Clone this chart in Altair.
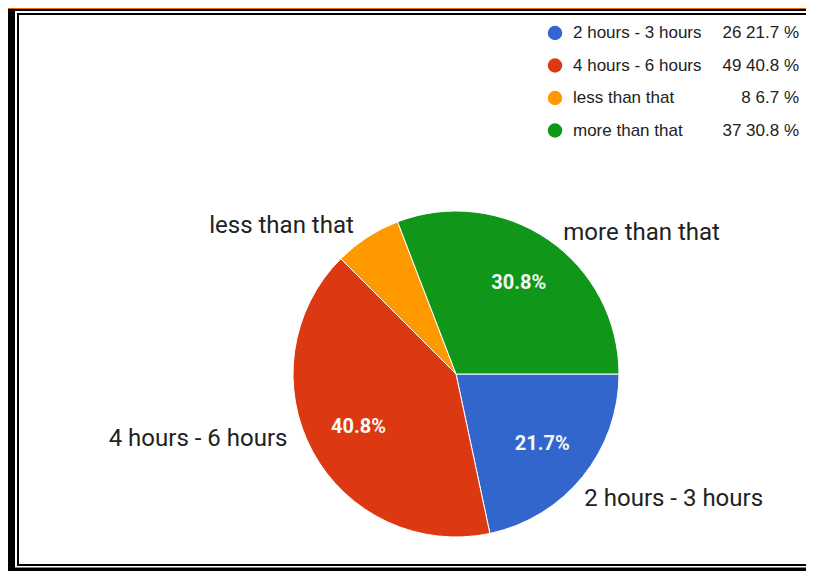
import math
import altair as alt
import pandas as pd

# ---- data ----
categories = ["2 hours - 3 hours", "4 hours - 6 hours", "less than that", "more than that"]
counts = [26, 49, 8, 37]
colors = ["#3366CC", "#DC3912", "#FF9900", "#109618"]

df = pd.DataFrame({"category": categories, "count": counts, "order": list(range(len(categories)))})

# ---- layout ----
W, H = 798, 563
CX, CY = 448, 366
R = 163
START = math.pi / 2
theta_scale = alt.Scale(domain=[0, 1], range=[START, START + 2 * math.pi])
color_scale = alt.Scale(domain=categories, range=colors)
legend_y = alt.Scale(domain=categories, range=[25, 122.5], padding=0)

base = (
    alt.Chart(df)
    .transform_joinaggregate(total="sum(count)")
    .transform_window(cum="sum(count)", sort=[alt.SortField("order")], frame=[None, 0])
    .transform_calculate(
        f0="(datum.cum - datum.count) / datum.total",
        f1="datum.cum / datum.total",
        mid="(datum.cum - datum.count / 2) / datum.total",
        share="datum.count / datum.total",
        pct_label="format(datum.count / datum.total * 100, '.1f') + '%'",
        legend_right="datum.count + ' ' + format(datum.count / datum.total * 100, '.1f') + ' %'",
    )
)

arcs = base.mark_arc(outerRadius=R, stroke="white", strokeWidth=1).encode(
    theta=alt.Theta("f0:Q", scale=theta_scale),
    theta2="f1:Q",
    color=alt.Color("category:N", scale=color_scale, legend=None),
    x=alt.value(CX),
    y=alt.value(CY),
)

inner = base.transform_filter("datum.share >= 0.1").mark_text(
    radius=111, font="Roboto", fontSize=20, fontWeight="bold", color="#f4f8f4",
    align="center", baseline="middle",
).encode(
    theta=alt.Theta("mid:Q", scale=theta_scale),
    text="pct_label:N",
    x=alt.value(CX),
    y=alt.value(CY),
)

offsets = {
    "2 hours - 3 hours": (70, 5),
    "4 hours - 6 hours": (-91, -26),
    "less than that": (-71, 11),
    "more than that": (78, 16),
}
outer_layers = []
for cat in categories:
    dx, dy = offsets[cat]
    outer_layers.append(
        base.transform_filter(alt.datum.category == cat).mark_text(
            radius=190, dx=dx, dy=dy, font="Roboto", fontSize=24, color="#222222",
            align="center", baseline="middle",
        ).encode(
            theta=alt.Theta("mid:Q", scale=theta_scale),
            text="category:N",
            x=alt.value(CX),
            y=alt.value(CY),
        )
    )

leg_dots = base.mark_circle(size=210, opacity=1).encode(
    x=alt.value(547),
    y=alt.Y("category:N", axis=None, scale=legend_y),
    color=alt.Color("category:N", scale=color_scale, legend=None),
)
leg_text = base.mark_text(align="left", baseline="middle", font="Liberation Sans", fontSize=17, color="#222222").encode(
    x=alt.value(565),
    y=alt.Y("category:N", axis=None, scale=legend_y),
    text="category:N",
)
leg_right = base.mark_text(align="right", baseline="middle", font="Liberation Sans", fontSize=17, color="#222222").encode(
    x=alt.value(791),
    y=alt.Y("category:N", axis=None, scale=legend_y),
    text="legend_right:N",
)

# ---- decorative frame ----
frame_df = pd.DataFrame({"k": [0]})


def band(color, x0, x1, y0, y1):
    return alt.Chart(frame_df).mark_rect(color=color).encode(
        x=alt.value(x0), x2=alt.value(x1), y=alt.value(y0), y2=alt.value(y1)
    )


frame = [
    band("#E46C0A", 0, W, 0, 1),
    band("black", 0, W, 1, 3),
    band("black", 9, W, 5, 7),
    band("black", 0, 7, 1, H),
    band("black", 9, 11, 5, 558),
    band("black", 9, W, 556, 558),
    band("black", 0, W, 559.5, H),
]

chart = alt.layer(
    *frame, arcs, inner, *outer_layers, leg_dots, leg_text, leg_right
).resolve_scale(y="shared").properties(
    width=W, height=H, autosize=alt.AutoSizeParams(type="none"), padding=0
).configure_view(stroke=None)

chart.save("out.html", embed_options={"renderer": "svg", "actions": False})
